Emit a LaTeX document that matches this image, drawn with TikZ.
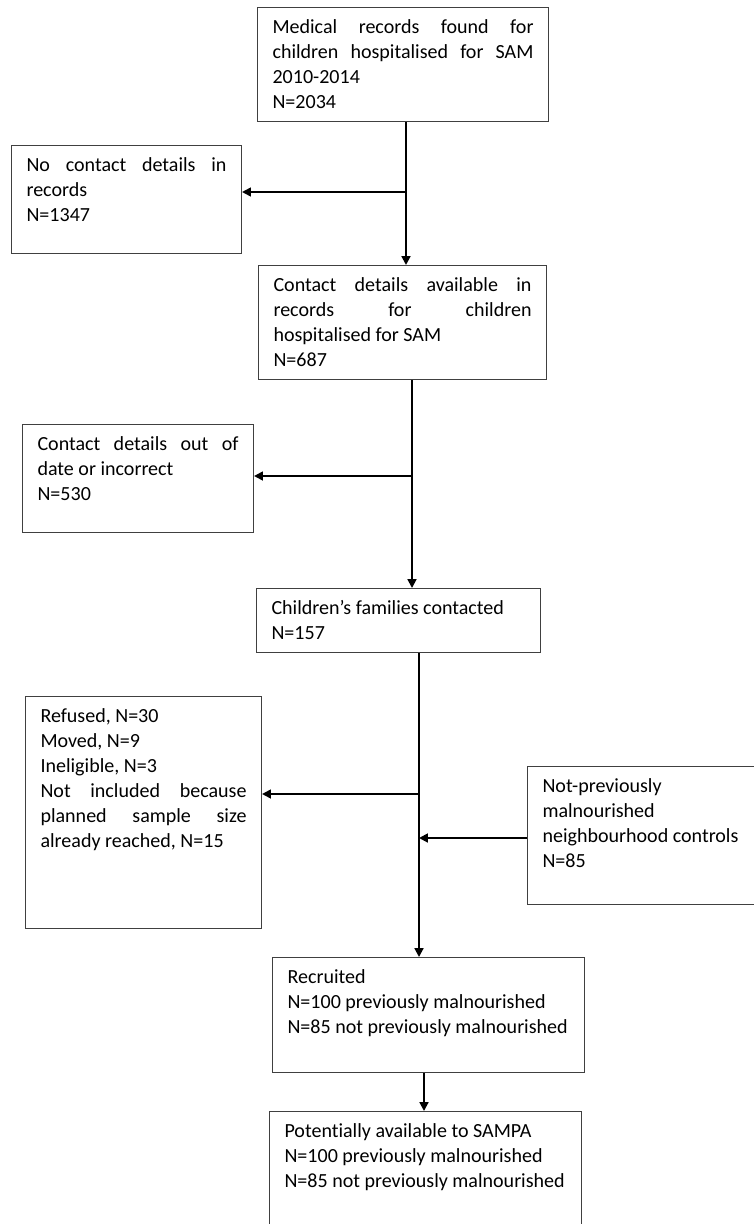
\documentclass[tikz,border=0pt]{standalone}
\usepackage{fontspec}
\setmainfont{Carlito}[Ligatures=NoCommon]
\usepackage{tikz}
\usetikzlibrary{arrows.meta, positioning}
\definecolor{boxline}{rgb}{0.25,0.25,0.25}
\newcommand{\boxtext}[3]{\parbox[t][#2][t]{#1}{\strut#3}}

\begin{document}
\begin{tikzpicture}[
    box/.style={rectangle, draw=boxline, line width=0.6pt, anchor=north west, inner xsep=0.3cm, inner ysep=0.17cm, font=\fontsize{11.4}{14.2}\selectfont},
    arrow/.style={-{Triangle[length=5pt,width=5pt]}, line width=1.1pt}
]
\useasboundingbox (0,0) rectangle (15.08,-24.48);

% Main stream
\node[box] (recs) at (5.14,-0.14) {\boxtext{5.22cm}{1.94cm}{Medical records found for\linebreak children hospitalised for SAM\linebreak 2010-2014\\N=2034}};
\node[box] (avail) at (5.16,-5.30) {\boxtext{5.16cm}{1.94cm}{Contact details available in\linebreak records for children\linebreak hospitalised for SAM\\N=687}};
\node[box] (contact) at (5.12,-11.76) {\boxtext{5.08cm}{0.94cm}{Children’s families contacted\\N=157}};
\node[box] (recruit) at (5.44,-19.14) {\boxtext{5.64cm}{1.96cm}{Recruited\\N=100 previously malnourished\\N=85 not previously malnourished}};
\node[box] (sampa) at (5.38,-22.22) {\boxtext{5.64cm}{2.04cm}{Potentially available to SAMPA\\N=100 previously malnourished\\N=85 not previously malnourished}};

% Side boxes
\node[box] (nocont) at (0.22,-2.90) {\boxtext{4.0cm}{1.82cm}{No contact details in\linebreak records\\N=1347}};
\node[box] (outdate) at (0.44,-8.48) {\boxtext{4.02cm}{1.82cm}{Contact details out of\linebreak date or incorrect\\N=530}};
\node[box] (excl) at (0.50,-13.92) {\boxtext{4.12cm}{4.30cm}{Refused, N=30\\Moved, N=9\\Ineligible, N=3\\Not included because\linebreak planned sample size\linebreak already reached, N=15}};
\node[box] (controls) at (10.54,-15.32) {\boxtext{4.0cm}{2.42cm}{Not-previously\\malnourished\\neighbourhood controls\\N=85}};

% Junctions on the main line
\coordinate (j1) at (8.12,-3.84);
\coordinate (j2) at (8.24,-9.52);
\coordinate (j3) at (8.38,-15.88);
\coordinate (j4) at (8.38,-16.76);
\coordinate (j5) at (8.48,-22.0);

% Flow arrows
\draw[arrow] (recs.south -| j1) -- (avail.north -| j1);
\draw[arrow] (j1) -- (j1 -| nocont.east);
\draw[arrow] (avail.south -| j2) -- (contact.north -| j2);
\draw[arrow] (j2) -- (j2 -| outdate.east);
\draw[arrow] (contact.south -| j3) -- (recruit.north -| j3);
\draw[arrow] (j3) -- (j3 -| excl.east);
\draw[arrow] (j4 -| controls.west) -- (j4);
\draw[arrow] (recruit.south -| j5) -- (sampa.north -| j5);

\end{tikzpicture}
\end{document}
